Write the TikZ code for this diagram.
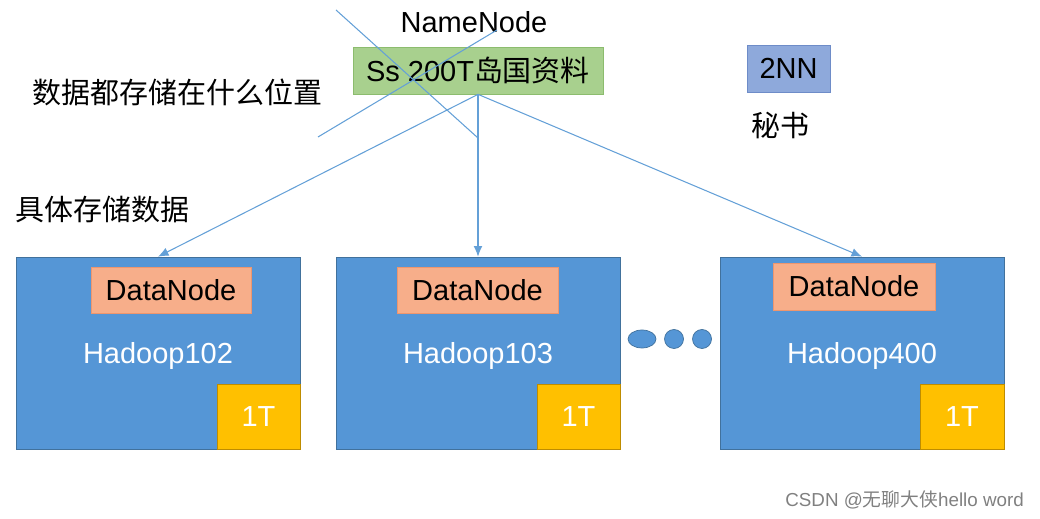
\documentclass[tikz,border=0pt]{standalone}
\usepackage{fontspec}
\usetikzlibrary{shapes.geometric,arrows.meta}
\setmainfont{Liberation Sans}
\newfontfamily\cjk{Noto Sans CJK SC}
\tikzset{>={Latex[length=6pt,width=5pt]}}
\definecolor{hostblue}{RGB}{85,150,214}
\definecolor{hostedge}{RGB}{65,113,156}
\definecolor{dnfill}{RGB}{247,174,138}
\definecolor{dnedge}{RGB}{238,150,110}
\definecolor{diskfill}{RGB}{255,192,0}
\definecolor{diskedge}{RGB}{190,140,0}
\definecolor{nnfill}{RGB}{168,208,142}
\definecolor{nnedge}{RGB}{140,188,110}
\definecolor{snnfill}{RGB}{142,169,219}
\definecolor{snnedge}{RGB}{110,140,200}
\definecolor{linkblue}{RGB}{100,160,215}

\begin{document}
\begin{tikzpicture}[x=0.02cm,y=-0.02cm,
  font=\fontsize{16.5}{20}\selectfont]
\useasboundingbox (0,0) rectangle (1040,519);
\begin{scope}[every node/.style={draw,inner sep=0pt}]
\node[fill=hostblue,draw=hostedge,text=white,minimum width=5.68cm,minimum height=3.84cm,text depth=-0.1cm] (h102) at (158,353) {Hadoop102};
\node[fill=hostblue,draw=hostedge,text=white,minimum width=5.68cm,minimum height=3.84cm,text depth=-0.1cm] (h103) at (478,353) {Hadoop103};
\node[fill=hostblue,draw=hostedge,text=white,minimum width=5.68cm,minimum height=3.84cm,text depth=-0.1cm] (h400) at (862,353) {Hadoop400};
\node[fill=dnfill,draw=dnedge,minimum width=3.2cm,minimum height=0.92cm] (d102) at (171,290) {DataNode};
\node[fill=dnfill,draw=dnedge,minimum width=3.22cm,minimum height=0.92cm] (d103) at (477.5,290) {DataNode};
\node[fill=dnfill,draw=dnedge,minimum width=3.24cm,minimum height=0.94cm] (d400) at (854,286.5) {DataNode};
\node[fill=diskfill,draw=diskedge,text=white,minimum width=1.66cm,minimum height=1.3cm] (k102) at (258.5,416.5) {1T};
\node[fill=diskfill,draw=diskedge,text=white,minimum width=1.66cm,minimum height=1.3cm] (k103) at (578.5,416.5) {1T};
\node[fill=diskfill,draw=diskedge,text=white,minimum width=1.68cm,minimum height=1.3cm] (k400) at (962,416.5) {1T};
\node[fill=nnfill,draw=nnedge,minimum width=5cm,minimum height=0.94cm] (nn) at (478,70.5) {Ss 200T{\cjk 岛国资料}};
\node[fill=snnfill,draw=snnedge,minimum width=1.66cm,minimum height=0.94cm] (snn) at (788.5,68.5) {2NN};
\node[ellipse,fill=hostblue,draw=hostedge,minimum width=0.56cm,minimum height=0.36cm] (dot1) at (642,339) {};
\node[circle,fill=hostblue,draw=hostedge,minimum size=0.38cm] (dot2) at (674,339) {};
\node[circle,fill=hostblue,draw=hostedge,minimum size=0.38cm] (dot3) at (702,339) {};
\end{scope}
\node (nnlabel) at (474,22) {NameNode};
\node (secretary) at (780,125) {\cjk 秘书};
\node[anchor=west] (where) at (26,92) {\cjk 数据都存储在什么位置};
\node[anchor=west] (store) at (9,210) {\cjk 具体存储数据};
\node[anchor=east,text=gray,font=\fontsize{10.7}{13}\selectfont] (mark) at (1030,500) {CSDN @{\cjk 无聊大侠}hello word};
\coordinate (xa) at (336,10);
\coordinate (xb) at (478,138);
\coordinate (xc) at (318,137);
\coordinate (xd) at (497,30);
\begin{scope}[every edge/.style={draw=linkblue,line width=0.6pt}]
    \path [->] (nn.south) edge (h102.north);
    \path [->] (nn.south) edge (h103.north);
    \path [->] (nn.south) edge (h400.north);

    % crossed out
    \path (xa) edge (xb);
    \path (xc) edge (xd);
\end{scope}
\end{tikzpicture}
\end{document}
